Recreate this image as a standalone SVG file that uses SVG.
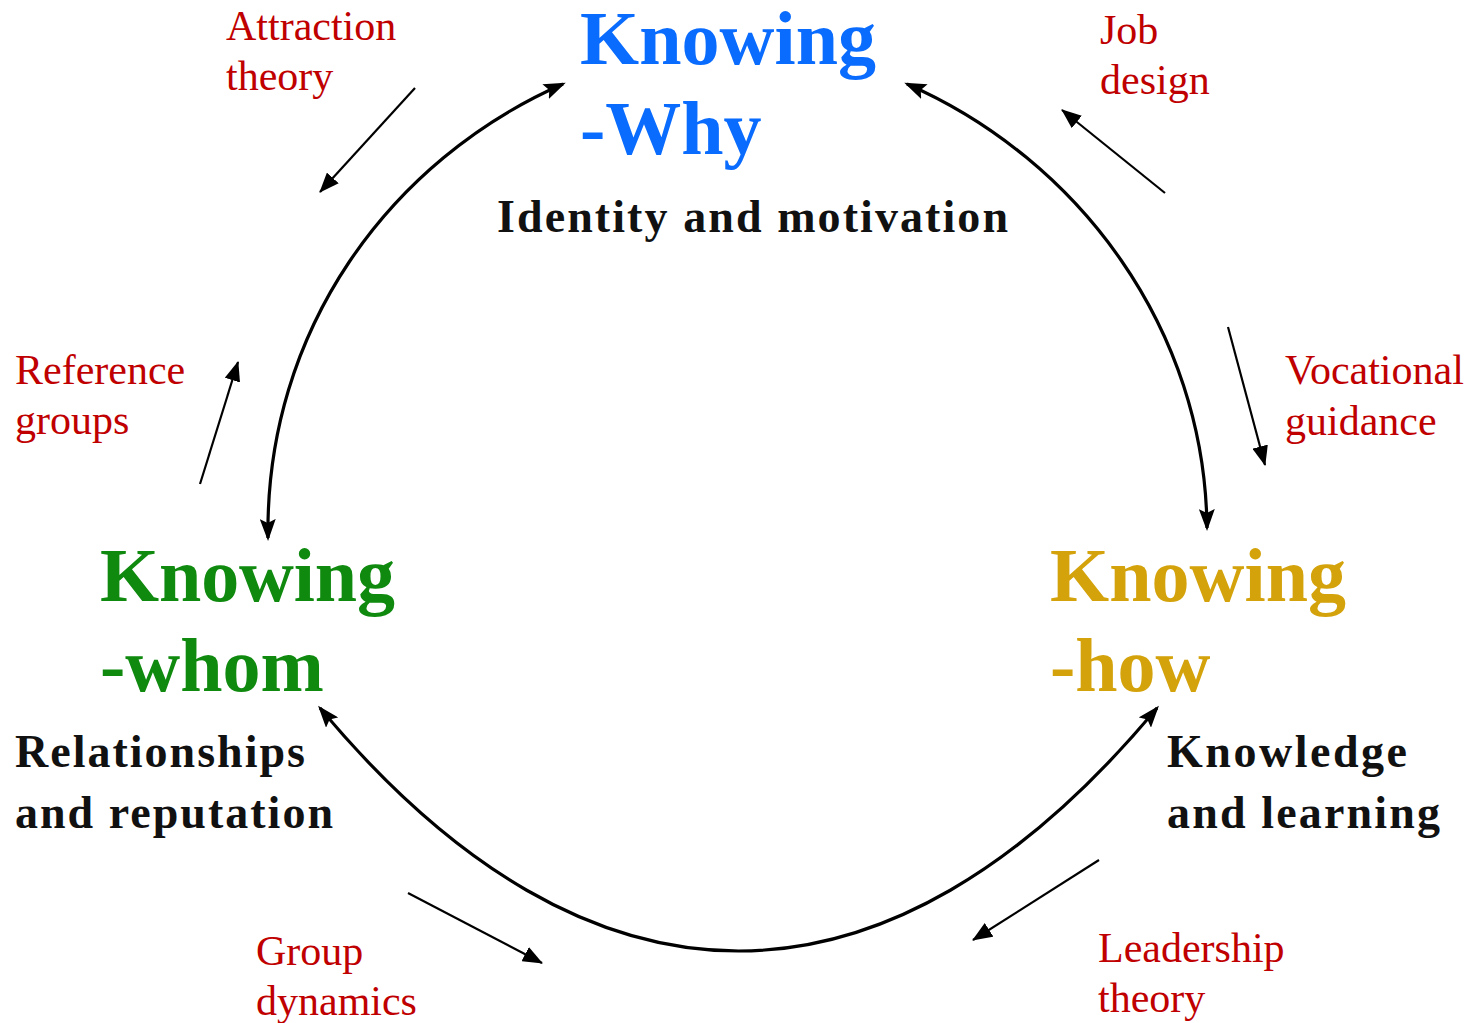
<svg xmlns="http://www.w3.org/2000/svg" width="1473" height="1023" viewBox="0 0 1473 1023">
<style>
.title{font-family:"Liberation Serif","Times New Roman",serif;font-weight:bold;font-size:76px}
.sub{font-family:"Liberation Serif","Times New Roman",serif;font-weight:bold;font-size:46px;fill:#111}
.lab{font-family:"Liberation Serif","Times New Roman",serif;font-size:42px;fill:#c00000}
.arc{fill:none;stroke:#000;stroke-width:3.2}
.ptr{fill:none;stroke:#000;stroke-width:2.2}
</style>
<defs>
<marker id="big" markerUnits="userSpaceOnUse" markerWidth="22" markerHeight="16" refX="19" refY="8" orient="auto-start-reverse" viewBox="0 0 22 16">
<path d="M0,0 L22,8 L0,16 L4,8 Z" fill="#000"/>
</marker>
<marker id="small" markerUnits="userSpaceOnUse" markerWidth="20" markerHeight="16" refX="19" refY="8" orient="auto" viewBox="0 0 20 16">
<path d="M0,0 L20,8 L0,16 Z" fill="#000"/>
</marker>
</defs>
<rect width="1473" height="1023" fill="#fff"/>
<g id="connectors">
<path class="arc" d="M268,538 C265,330 390,160 563,84" marker-start="url(#big)" marker-end="url(#big)"/>
<path class="arc" d="M907,84 C1080,160 1205,330 1207,528" marker-start="url(#big)" marker-end="url(#big)"/>
<path class="arc" d="M320,708 C590,1032 887,1032 1157,708" marker-start="url(#big)" marker-end="url(#big)"/>
<line class="ptr" x1="415" y1="88" x2="320" y2="192" marker-end="url(#small)"/>
<line class="ptr" x1="1165" y1="193" x2="1062" y2="110" marker-end="url(#small)"/>
<line class="ptr" x1="200" y1="484" x2="238" y2="362" marker-end="url(#small)"/>
<line class="ptr" x1="1228" y1="327" x2="1265" y2="465" marker-end="url(#small)"/>
<line class="ptr" x1="408" y1="893" x2="542" y2="963" marker-end="url(#small)"/>
<line class="ptr" x1="1099" y1="860" x2="973" y2="940" marker-end="url(#small)"/>
</g>
<g id="node-why">
<text class="title" fill="#0a6cff" x="580" y="64" font-size="73" textLength="296">Knowing</text>
<text class="title" fill="#0a6cff" x="580" y="154">-Why</text>
<text class="sub" x="497" y="232" textLength="511">Identity and motivation</text>
</g>
<g id="node-whom">
<text class="title" fill="#0f8a0f" x="100" y="601" textLength="295">Knowing</text>
<text class="title" fill="#0f8a0f" x="100" y="691">-whom</text>
<text class="sub" x="15" y="767" textLength="290">Relationships</text>
<text class="sub" x="15" y="828" textLength="318">and reputation</text>
</g>
<g id="node-how">
<text class="title" fill="#d4a20a" x="1050" y="601" textLength="296">Knowing</text>
<text class="title" fill="#d4a20a" x="1050" y="691">-how</text>
<text class="sub" x="1167" y="767" textLength="240">Knowledge</text>
<text class="sub" x="1167" y="828" textLength="273">and learning</text>
</g>
<g id="labels">
<text class="lab" x="226" y="40">Attraction</text>
<text class="lab" x="226" y="90">theory</text>
<text class="lab" x="1100" y="44">Job</text>
<text class="lab" x="1100" y="94">design</text>
<text class="lab" x="15" y="384">Reference</text>
<text class="lab" x="15" y="434">groups</text>
<text class="lab" x="1285" y="384">Vocational</text>
<text class="lab" x="1285" y="435">guidance</text>
<text class="lab" x="256" y="965">Group</text>
<text class="lab" x="256" y="1015">dynamics</text>
<text class="lab" x="1098" y="962">Leadership</text>
<text class="lab" x="1098" y="1012">theory</text>
</g>
</svg>
